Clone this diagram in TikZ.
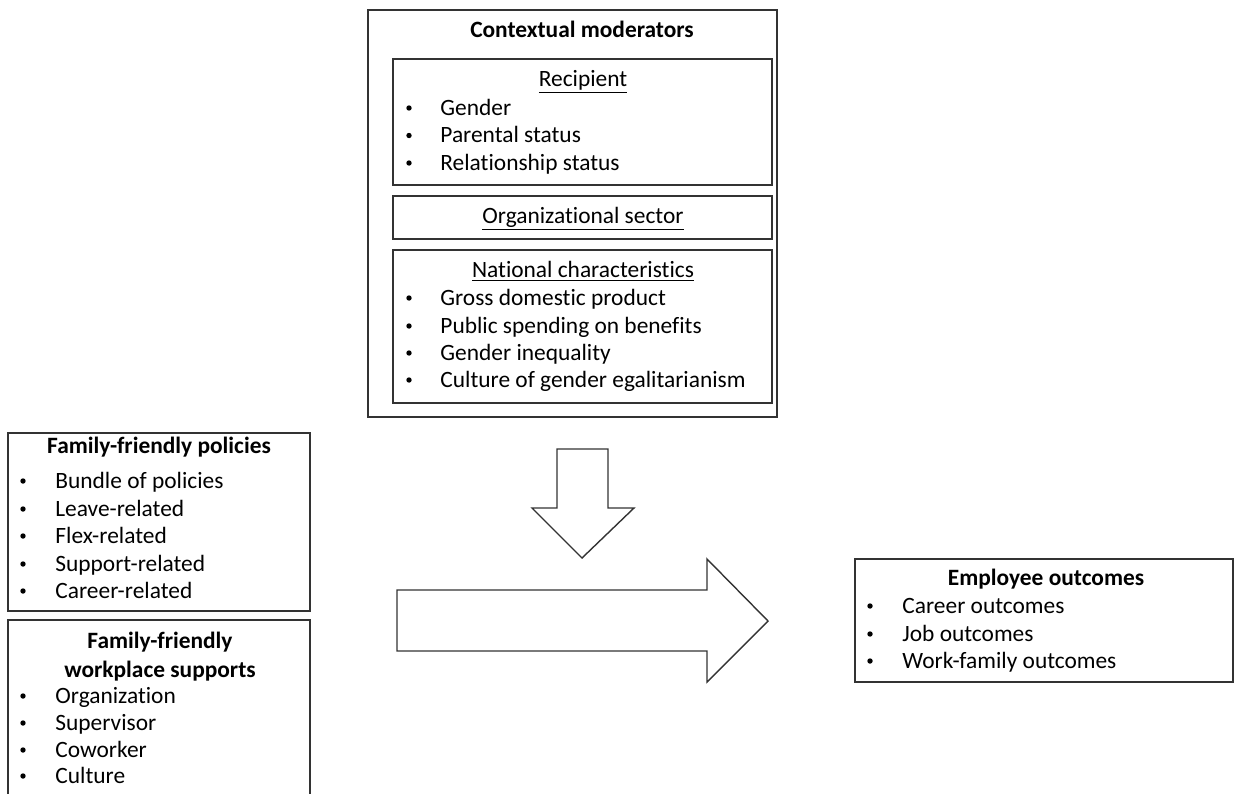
\documentclass[tikz,border=0pt]{standalone}
\usepackage{fontspec}
\setmainfont{Carlito}[Ligatures={NoCommon}]
\begin{document}
\begin{tikzpicture}[x=0.5pt,y=-0.5pt,
  box/.style={draw=black!80,line width=0.7pt,fill=white},
  txt/.style={inner sep=0pt,anchor=base west,font=\fontsize{11.7}{14}\selectfont},
  ctr/.style={inner sep=0pt,anchor=base,font=\fontsize{11.7}{14}\selectfont},
  ttl/.style={inner sep=0pt,anchor=base,font=\fontsize{11.7}{14}\selectfont\bfseries},
  bul/.style={circle,fill=black,inner sep=0pt,minimum size=2.7pt},
  fat/.style={draw=black!80,line width=0.7pt,fill=white,line join=miter}]
\useasboundingbox (0,0) rectangle (1235,793);

% Contextual moderators
\draw[box] (368,10) rectangle (777,417);
\node[ttl] (cm) at (582,37) {Contextual moderators};
\draw[box] (393,59) rectangle (772,185);
\node[ctr] (rec) at (583,86) {\underline{Recipient}};
\foreach \t/\y [count=\i] in {Gender/115,Parental status/142.5,Relationship status/170}{
  \node[bul] (rb\i) at (409,\y-7) {};
  \node[txt] (rt\i) at (440,\y) {\t};
}
\draw[box] (393,196) rectangle (772,239);
\node[ctr] (org) at (583,223) {\underline{Organizational sector}};
\draw[box] (393,250) rectangle (772,403);
\node[ctr] (nat) at (583,277) {\underline{National characteristics}};
\foreach \t/\y [count=\i] in {Gross domestic product/305,Public spending on benefits/333,Gender inequality/360,Culture of gender egalitarianism/387}{
  \node[bul] (nb\i) at (409,\y-7) {};
  \node[txt] (nt\i) at (440,\y) {\t};
}

% Family-friendly policies
\draw[box] (8,433) rectangle (310,611);
\node[ttl] (ffp) at (159,453) {Family-friendly policies};
\foreach \t/\y [count=\i] in {Bundle of policies/488,Leave-related/516,Flex-related/543,Support-related/571,Career-related/598}{
  \node[bul] (pb\i) at (23,\y-7) {};
  \node[txt] (pt\i) at (55,\y) {\t};
}

% Family-friendly workplace supports
\draw[box] (8,800) -- (8,620) -- (310,620) -- (310,800);
\node[ttl] (ffs1) at (160,648) {Family-friendly};
\node[ttl] (ffs2) at (160,677) {workplace supports};
\foreach \t/\y [count=\i] in {Organization/703,Supervisor/730,Coworker/757,Culture/783}{
  \node[bul] (sb\i) at (23,\y-7) {};
  \node[txt] (st\i) at (55,\y) {\t};
}

% Employee outcomes
\draw[box] (855,559) rectangle (1233,682);
\node[ttl] (eo) at (1046,585) {Employee outcomes};
\foreach \t/\y [count=\i] in {Career outcomes/613,Job outcomes/641,Work-family outcomes/668}{
  \node[bul] (eb\i) at (870,\y-7) {};
  \node[txt] (et\i) at (902,\y) {\t};
}

% Down arrow
\draw[fat] (557,449) -- (608,449) -- (608,508) -- (634,508) -- (582,558) -- (532,508) -- (557,508) -- cycle;
% Right arrow
\draw[fat] (397,590) -- (707,590) -- (707,559) -- (768,621) -- (707,682) -- (707,651) -- (397,651) -- cycle;
\end{tikzpicture}
\end{document}
